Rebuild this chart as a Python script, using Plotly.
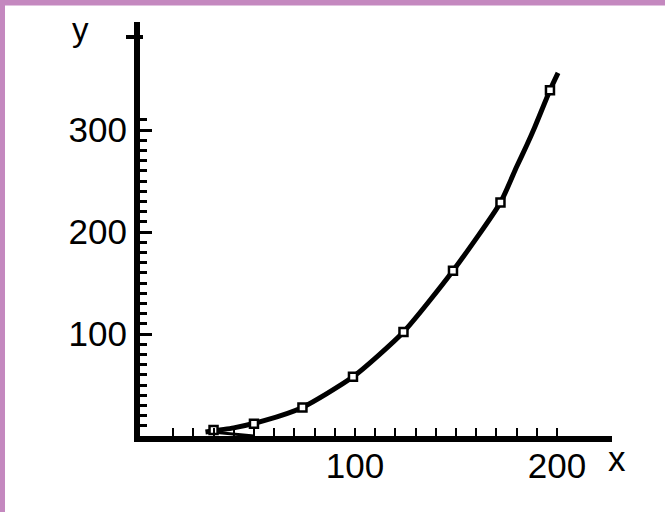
import plotly.graph_objects as go

# data
point_x = [30, 50, 74, 99, 124, 148.5, 172, 196.5]
point_y = [6, 12, 28, 58, 102, 162, 229, 339]

curve_x = [26, 40, 55, 74, 99, 124, 148.5, 172, 180, 185, 189, 196.5, 200.5]
curve_y = [4, 8, 15, 28, 58, 102, 162, 229, 264, 285, 303, 339, 356]

low_x = [29, 40, 50]
low_y = [4, 2, 0]

x_ticks = [100, 200]
y_ticks = [100, 200, 300]
x_minor = list(range(10, 201, 10))
y_minor = list(range(10, 311, 10))

# layout geometry (pixels)
W, H = 665, 512
L, R, T, B = 140, 612, 22, 436
PW, PH = R - L, B - T

def px(x):
    return (x - L) / PW

def py(y):
    return (B - y) / PH

PINK = "#C488BF"
FONT = "Liberation Sans, Arial, sans-serif"

fig = go.Figure()
fig.add_trace(go.Scatter(x=low_x, y=low_y, mode="lines",
                         line=dict(color="black", width=3), hoverinfo="skip"))
fig.add_trace(go.Scatter(x=curve_x, y=curve_y, mode="lines",
                         line=dict(color="black", width=5, shape="spline", smoothing=0.6)))
fig.add_trace(go.Scatter(x=point_x, y=point_y, mode="markers",
                         marker=dict(symbol="square", size=8, color="white",
                                     line=dict(color="black", width=2.5))))

fig.update_layout(
    width=W, height=H,
    margin=dict(l=L, r=W - R, t=T, b=H - B, pad=0),
    paper_bgcolor="white", plot_bgcolor="white",
    showlegend=False,
    font=dict(family=FONT, size=35, color="black"),
    xaxis=dict(range=[-6.4, 227.2], showgrid=False, zeroline=False,
               showline=True, linecolor="black", linewidth=6,
               tickmode="array", tickvals=x_ticks, ticktext=[str(v) for v in x_ticks],
               ticks="inside", ticklen=8, tickwidth=2, tickcolor="black",
               ticklabelstandoff=-6,
               tickfont=dict(family=FONT, size=35, color="black"),
               minor=dict(tickmode="array", tickvals=x_minor, ticks="inside",
                          ticklen=8, tickwidth=2, tickcolor="black", showgrid=False),
               fixedrange=True),
    yaxis=dict(range=[0, PH / 1.02], showgrid=False, zeroline=False,
               showline=True, linecolor="black", linewidth=6,
               tickmode="array", tickvals=y_ticks, ticktext=[str(v) for v in y_ticks],
               ticks="inside", ticklen=12, tickwidth=3, tickcolor="black",
               tickfont=dict(family=FONT, size=35, color="black"),
               minor=dict(tickmode="array", tickvals=y_minor, ticks="inside",
                          ticklen=7, tickwidth=3, tickcolor="black", showgrid=False),
               fixedrange=True),
    shapes=[
        dict(type="rect", xref="paper", yref="paper",
             x0=px(-2), x1=px(5), y0=py(H + 2), y1=py(-2),
             fillcolor=PINK, line=dict(width=0), layer="above"),
        dict(type="rect", xref="paper", yref="paper",
             x0=px(-2), x1=px(W + 2), y0=py(5.5), y1=py(-2),
             fillcolor=PINK, line=dict(width=0), layer="above"),
        dict(type="line", xref="paper", yref="paper",
             x0=px(126), x1=px(143), y0=py(37), y1=py(37),
             line=dict(color="black", width=4)),
    ],
    annotations=[
        dict(text="y", xref="paper", yref="paper", x=px(80), y=py(30),
             xanchor="center", yanchor="middle", showarrow=False,
             font=dict(family=FONT, size=33, color="black")),
        dict(text="x", xref="paper", yref="paper", x=px(617), y=py(458),
             xanchor="center", yanchor="middle", showarrow=False,
             font=dict(family=FONT, size=35, color="black")),
    ],
)

fig.write_html("out.html", config={"displayModeBar": False},
               post_script="document.body.style.margin='0';document.body.style.overflow='hidden';")
